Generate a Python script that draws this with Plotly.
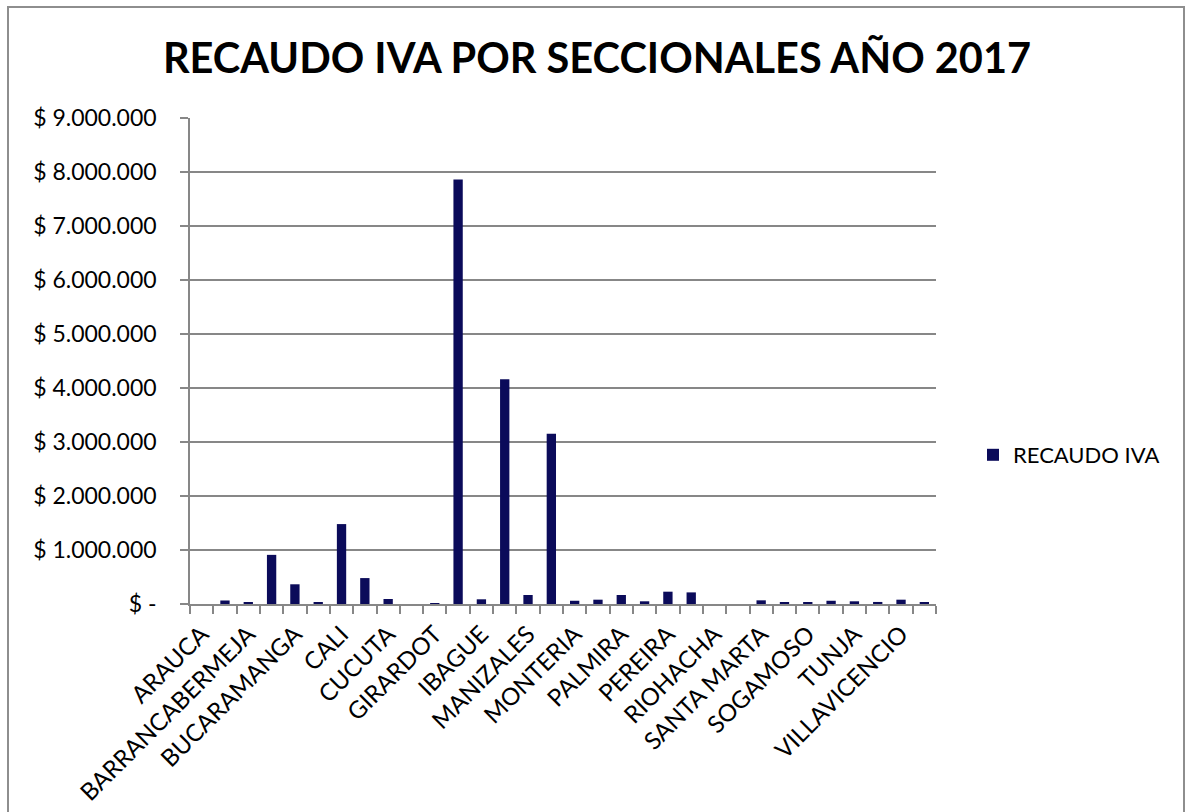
import plotly.graph_objects as go

categories = ["ARAUCA", "ARMENIA", "BARRANCABERMEJA", "BARRANQUILLA", "BUCARAMANGA",
              "BUENAVENTURA", "CALI", "CARTAGENA", "CUCUTA", "FLORENCIA", "GIRARDOT",
              "GRANDES CONTRIBUYENTES", "IBAGUE", "IMPUESTOS BOGOTA", "MANIZALES",
              "MEDELLIN", "MONTERIA", "NEIVA", "PALMIRA", "PASTO", "PEREIRA", "POPAYAN",
              "RIOHACHA", "SAN ANDRES", "SANTA MARTA", "SINCELEJO", "SOGAMOSO", "TULUA",
              "TUNJA", "VALLEDUPAR", "VILLAVICENCIO", "YOPAL"]

recaudo_iva = [0, 65000, 35000, 910000, 365000, 30000, 1480000, 480000, 93000, 0,
               15000, 7860000, 87000, 4160000, 167000, 3155000, 60000, 80000, 167000,
               50000, 228000, 215000, 0, 0, 68000, 20000, 35000, 60000, 50000, 38000,
               80000, 25000]

y_tick_values = [0, 1000000, 2000000, 3000000, 4000000, 5000000, 6000000, 7000000,
                 8000000, 9000000]
y_tick_labels = ["$ -", "$ 1.000.000", "$ 2.000.000", "$ 3.000.000", "$ 4.000.000",
                 "$ 5.000.000", "$ 6.000.000", "$ 7.000.000", "$ 8.000.000", "$ 9.000.000"]

# only every other category name is shown on the axis
x_tick_labels = [c if i % 2 == 0 else "" for i, c in enumerate(categories)]

FONT = "Lato"
GRID = "#878787"

fig = go.Figure()
fig.add_trace(go.Bar(x=categories, y=recaudo_iva, name="RECAUDO IVA",
                     marker=dict(color="#0B0B5A", line=dict(width=0))))

L, R, T, B = 190, 250, 118, 208
W, H = 1186, 812
pw, ph = W - L - R, H - T - B
y0px = H - B  # pixel row of the x axis

fig.update_layout(
    width=W, height=H,
    margin=dict(l=L, r=R, t=T, b=B, pad=0, autoexpand=False),
    paper_bgcolor="white", plot_bgcolor="white",
    bargap=0.6,
    font=dict(family=FONT, color="black", size=23),
    title=dict(text="<b>RECAUDO IVA POR SECCIONALES AÑO 2017</b>",
               x=597 / W, xanchor="center", xref="container",
               y=1 - 58 / H, yanchor="middle", yref="container",
               font=dict(family=FONT, size=41.5, color="black")),
    showlegend=True,
    legend=dict(x=(973 - L) / pw, xanchor="left", y=(y0px - 455) / ph, yanchor="middle",
                font=dict(family=FONT, size=22, color="black"),
                bgcolor="rgba(0,0,0,0)"),
    xaxis=dict(type="category", tickmode="array", tickvals=categories,
               ticktext=x_tick_labels, tickson="boundaries", ticks="outside",
               ticklen=8, tickcolor=GRID, tickwidth=1.5, tickangle=-45,
               showline=True, linecolor=GRID, linewidth=1.5, showgrid=False,
               range=[-0.5, len(categories) - 0.5], ticklabelstandoff=5,
               automargin=False,
               tickfont=dict(family=FONT, size=24, color="black")),
    yaxis=dict(range=[0, 9000000], tickmode="array", tickvals=y_tick_values,
               ticktext=y_tick_labels, ticks="outside", ticklen=8, tickcolor=GRID,
               tickwidth=1.5, showline=True, linecolor=GRID, linewidth=1.5,
               showgrid=True, gridcolor=GRID, gridwidth=1.5, zeroline=False,
               ticklabelstandoff=19, automargin=False,
               tickfont=dict(family=FONT, size=23, color="black")),
    shapes=[dict(type="rect", xref="paper", yref="paper",
                 x0=(8 - L) / pw, x1=(1184 - L) / pw,
                 y0=(y0px - 830) / ph, y1=(y0px - 7) / ph,
                 line=dict(color="#8E8E8E", width=2), fillcolor="rgba(0,0,0,0)",
                 layer="below")],
)

fig.write_html("out.html")
